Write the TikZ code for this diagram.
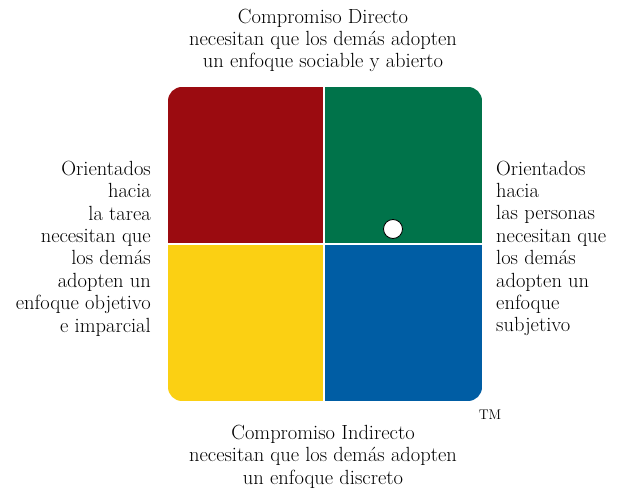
\documentclass[tikz,border=0pt]{standalone}
\definecolor{qred}{HTML}{9B0B10}
\definecolor{qgreen}{HTML}{00734A}
\definecolor{qyellow}{HTML}{FBD013}
\definecolor{qblue}{HTML}{005DA4}
\begin{document}
\begin{tikzpicture}[x=1pt,y=-1pt,
  lbl/.style={inner sep=0pt,font=\fontsize{20.5}{22.4}\selectfont},
  divider/.style={draw=white,line width=1.5pt}]
\useasboundingbox (0,0) rectangle (619,489);
\begin{scope}
  \clip[rounded corners=14pt] (168,87) rectangle (482,401);
  \fill[qred] (168,87) rectangle (324,244);
  \fill[qgreen] (324,87) rectangle (482,244);
  \fill[qyellow] (168,244) rectangle (324,401);
  \fill[qblue] (324,244) rectangle (482,401);
\end{scope}
\coordinate (vt) at (324,87);
\coordinate (vb) at (324,401);
\coordinate (hl) at (168,244);
\coordinate (hr) at (482,244);
\draw[divider] (vt) -- (vb);
\draw[divider] (hl) -- (hr);
\node[circle,draw=black,fill=white,line width=0.8pt,minimum size=19pt,inner sep=0pt] (dot) at (393,229) {};
\node[lbl,align=center] (top) at (323,40.5) {Compromiso Directo\\necesitan que los demás adopten\\un enfoque sociable y abierto};
\node[lbl,align=right,anchor=east] (left) at (151,248.5) {Orientados\\hacia\\la tarea\\necesitan que\\los demás\\adopten un\\enfoque objetivo\\e imparcial};
\node[lbl,align=left,anchor=west] (right) at (496,248.5) {Orientados\\hacia\\las personas\\necesitan que\\los demás\\adopten un\\enfoque\\subjetivo};
\node[lbl,align=center] (bottom) at (323,456.5) {Compromiso Indirecto\\necesitan que los demás adopten\\un enfoque discreto};
\node[inner sep=0pt,font=\fontsize{14}{16}\selectfont] (tm) at (490,415) {TM};
\end{tikzpicture}
\end{document}
